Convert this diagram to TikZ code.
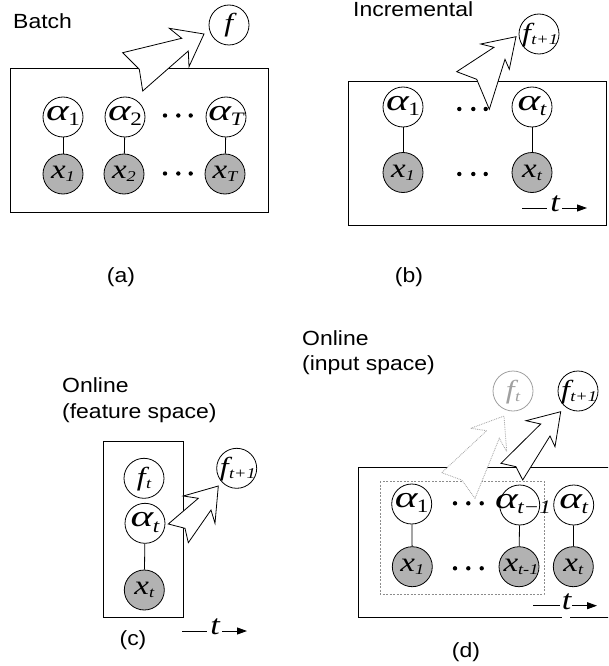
\documentclass[tikz,border=0pt]{standalone}
\usepackage{fontspec}
\setmainfont[FakeStretch=1.12]{Liberation Sans}
\newfontfamily\lserif[FakeStretch=1.22]{Liberation Serif}
\usetikzlibrary{arrows.meta}
\definecolor{ngray}{RGB}{178,178,178}
\definecolor{lgray}{RGB}{160,160,160}
\definecolor{dgray}{RGB}{140,140,140}
\newcommand\mA[1]{{\fontsize{30}{30}\selectfont\lserif\itshape\scalebox{1.18}[1]{α}}\kern-0.5pt\raisebox{-5.5pt}{\fontsize{19}{19}\selectfont\lserif #1}}
\newcommand\mX[1]{{\fontsize{27}{27}\selectfont\lserif\itshape x}\raisebox{-3pt}{\fontsize{15}{15}\selectfont\lserif\itshape #1}}
\newcommand\mF[1]{{\fontsize{26}{26}\selectfont\lserif\itshape f}\kern0.5pt\raisebox{-3pt}{\fontsize{15}{15}\selectfont\lserif\itshape #1}}
\tikzset{
  vnode/.style={circle,draw,line width=0.8pt,minimum size=40pt,inner sep=0pt,fill=white},
  onode/.style={vnode,fill=ngray},
  gnode/.style={vnode,draw=lgray,text=lgray},
  ctext/.style={inner sep=0pt},
  lbl/.style={inner sep=0pt,font=\fontsize{20.5}{24}\selectfont},
  tlbl/.style={inner sep=0.5pt,font=\fontsize{28}{28}\selectfont\lserif\itshape},
  boxline/.style={draw,line width=0.9pt},
  link/.style={draw,line width=0.8pt},
  bigarrow/.style={draw,fill=white,line width=0.8pt,line join=miter},
  gbigarrow/.style={draw=lgray,fill=white,line width=0.8pt,densely dotted},
  tarrow/.style={line width=0.9pt,-{Triangle[length=10pt,width=7pt]}},
  tline/.style={line width=0.9pt},
  dotc/.style={fill=black}
}
\begin{document}
\begin{tikzpicture}[x=1pt,y=-1pt]
\useasboundingbox (0,0) rectangle (608,666);
\clip (0,0) rectangle (608,666);
% ---------------- (a) ----------------
\node[lbl,anchor=base west] (batch) at (13,29) {Batch};
\draw[boxline] (10,68) rectangle (268,212);
\draw[bigarrow] (122.7,52.7) -- (139.3,69.3) -- (142.7,91) -- (188.3,51) -- (189,66.7) -- (204,34) -- (169.3,28.3) -- (181.7,38.3) -- cycle;
\node[vnode] (fa) at (229,25) {};
\node[ctext] (fat) at (fa) {\mF{}};
\node[vnode] (a1) at (63,117) {};
\node[vnode] (a2) at (125,117) {};
\node[vnode] (aT) at (226,117) {};
\node[onode] (x1) at (63,174) {};
\node[onode] (x2) at (124,174) {};
\node[onode] (xT) at (225,174) {};
\node[ctext] (a1t) at (63,116) {\mA{1}};
\node[ctext] (a2t) at (125,116) {\mA{2}};
\node[ctext] (aTt) at (226,116) {\mA{\itshape T}};
\node[ctext] (x1t) at (63,174) {\mX{1}};
\node[ctext] (x2t) at (124,174) {\mX{2}};
\node[ctext] (xTt) at (225,174) {\mX{T}};
\draw[link] (a1) -- (x1); \draw[link] (a2) -- (x2); \draw[link] (aT) -- (xT);
\foreach \xx in {165,178.3,190.7}{\fill[dotc] (\xx,115.5) circle (2.2); \fill[dotc] (\xx,173.5) circle (2.2);}
\node[lbl] (la) at (121,277) {(a)};
% ---------------- (b) ----------------
\node[lbl,anchor=base west] (incr) at (353,17) {Incremental};
\draw[boxline] (348,81) rectangle (606,225);
\draw[bigarrow] (456.7,71.7) -- (476.7,79.3) -- (489.3,109.3) -- (505,59.3) -- (509.3,69.3) -- (516,36.7) -- (480.7,44) -- (494,47.3) -- cycle;
\node[vnode] (fb) at (539,34) {};
\node[ctext] (fbt) at (540,35) {\mF{t+1}};
\node[vnode] (b1) at (403,107) {};
\node[vnode] (bt) at (532,107) {};
\node[onode] (y1) at (403,172.5) {};
\node[onode] (yt) at (532,172.5) {};
\node[ctext] (b1t) at (403,106) {\mA{1}};
\node[ctext] (btt) at (532,106) {\mA{\itshape t}};
\node[ctext] (y1t) at (403,172.5) {\mX{1}};
\node[ctext] (ytt) at (532,172.5) {\mX{t}};
\draw[link] (b1) -- (y1); \draw[link] (bt) -- (yt);
\foreach \xx in {459.3,473.3,485.7}{\fill[dotc] (\xx,109) circle (2.2); \fill[dotc] (\xx,174) circle (2.2);}
\coordinate (tb1) at (522,208); \coordinate (tb2) at (547,208);
\node[tlbl] (tbn) at (555,204) {t};
\coordinate (tb3) at (562,208); \coordinate (tb4) at (587,208);
\draw[tline] (tb1) -- (tb2); \draw[tarrow] (tb3) -- (tb4);
\node[lbl] (lb) at (409,277) {(b)};
% ---------------- (c) ----------------
\node[lbl,anchor=base west] (onc1) at (62,392) {Online};
\node[lbl,anchor=base west] (onc2) at (62,418) {(feature space)};
\draw[boxline] (103,441) rectangle (183,617);
\node[vnode] (cf) at (144,478.3) {};
\node[vnode] (ca) at (145,523.3) {};
\node[onode] (cx) at (144.3,590) {};
\draw[bigarrow] (168.3,524) -- (185,528.3) -- (188.3,542.7) -- (211,510) -- (215,523.3) -- (218.3,486) -- (183.3,496) -- (198.3,498.3) -- cycle;
\node[vnode] (cf1) at (236.7,468.3) {};
\node[ctext] (cft) at (144,479) {\mF{t}};
\node[ctext] (cat) at (145,522.3) {\mA{\itshape t}};
\node[ctext] (cxt) at (144.3,590) {\mX{t}};
\node[ctext] (cf1t) at (237.7,469.3) {\mF{t+1}};
\draw[link] (ca) -- (cx);
\coordinate (tc1) at (182,631); \coordinate (tc2) at (207,631);
\node[tlbl] (tcn) at (215,627) {t};
\coordinate (tc3) at (222,631); \coordinate (tc4) at (247,631);
\draw[tline] (tc1) -- (tc2); \draw[tarrow] (tc3) -- (tc4);
\node[lbl] (lc) at (133,640) {(c)};
% ---------------- (d) ----------------
\node[lbl,anchor=base west] (ond1) at (302,345) {Online};
\node[lbl,anchor=base west] (ond2) at (302,370) {(input space)};
\draw[boxline] (620,467) -- (358,467) -- (358,617) -- (561.7,617);
\draw[boxline] (570,617) -- (620,617);
\draw[draw=dgray,line width=0.6pt,dash pattern=on 2pt off 1.5pt] (380,481) rectangle (544,594);
\draw[gbigarrow] (441.7,472.7) -- (461.7,480) -- (475,498.3) -- (499.3,438.3) -- (506.7,451.7) -- (504,416) -- (470.7,428.3) -- (486.7,430.7) -- cycle;
\draw[bigarrow] (501,463.3) -- (516,466.7) -- (522.7,480) -- (550,436) -- (555,446.7) -- (560.7,411.7) -- (526,420.7) -- (540.7,424) -- cycle;
\node[gnode] (df) at (513,391) {};
\node[vnode] (df1) at (578,391) {};
\node[ctext,text=lgray] (dft) at (513,392) {\mF{t}};
\node[ctext] (df1t) at (579,392) {\mF{t+1}};
\node[vnode] (d1) at (411.7,504) {};
\node[vnode] (dm) at (519.7,505) {};
\node[vnode] (dt) at (573.7,505) {};
\node[onode] (e1) at (412.3,566.7) {};
\node[onode] (em) at (519,566.7) {};
\node[onode] (et) at (573.3,566.7) {};
\node[ctext] (d1t) at (411.7,503) {\mA{1}};
\node[ctext] (dmt) at (523,504) {\mA{\itshape t−1}};
\node[ctext] (dtt) at (573.7,504) {\mA{\itshape t}};
\node[ctext] (e1t) at (412.3,566.7) {\mX{1}};
\node[ctext] (emt) at (521,566.7) {\mX{t-1}};
\node[ctext] (ett) at (573.3,566.7) {\mX{t}};
\draw[link] (d1) -- (e1); \draw[link] (dm) -- (em); \draw[link] (dt) -- (et);
\foreach \xx in {455,468.3,481.7}{\fill[dotc] (\xx,503.3) circle (2.2); \fill[dotc] (\xx,568.3) circle (2.2);}
\coordinate (td1) at (533,605.7); \coordinate (td2) at (560,605.7);
\node[tlbl] (tdn) at (566.5,602) {t};
\coordinate (td3) at (572,605.7); \coordinate (td4) at (597,605.7);
\draw[tline] (td1) -- (td2); \draw[tarrow] (td3) -- (td4);
\node[lbl] (ld) at (466,652) {(d)};
\end{tikzpicture}
\end{document}
